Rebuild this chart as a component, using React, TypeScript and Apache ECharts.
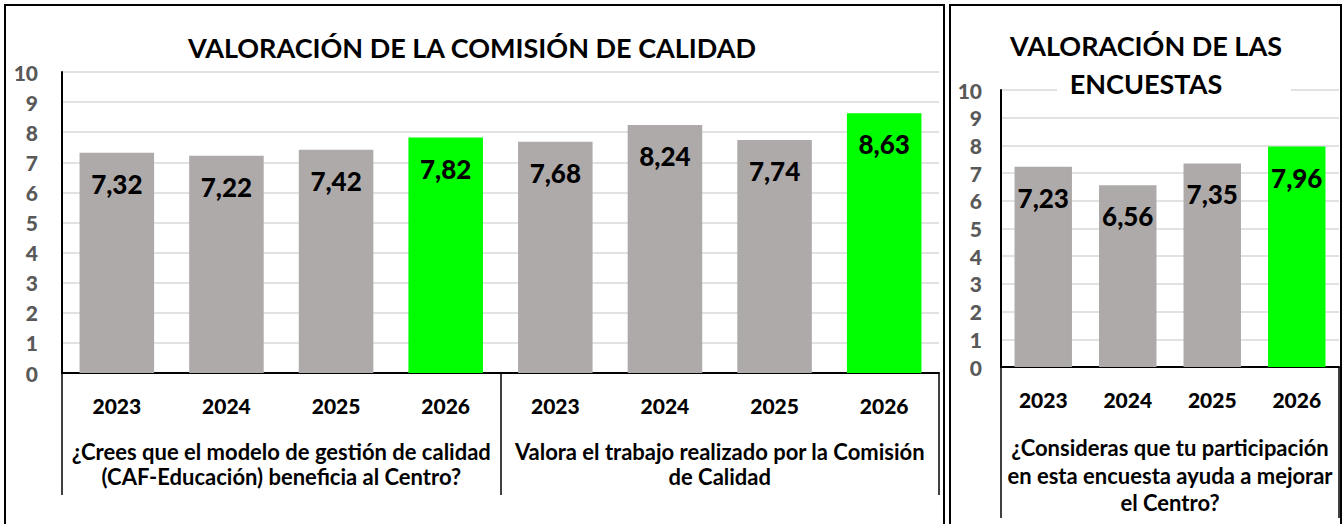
import React, { useEffect, useRef } from "react";
import * as echarts from "echarts";

const FONT = "Lato";
const HEAVY = 900;

const comisionYears = ["2023", "2024", "2025", "2026", "2023", "2024", "2025", "2026"];
const comisionQuestions = [
  "¿Crees que el modelo de gestión de calidad\n(CAF-Educación) beneficia al Centro?",
  "Valora el trabajo realizado por la Comisión\nde Calidad",
];
const comisionValues = [7.32, 7.22, 7.42, 7.82, 7.68, 8.24, 7.74, 8.63];

const encuestaYears = ["2023", "2024", "2025", "2026"];
const encuestaQuestions = [
  "¿Consideras que tu participación\nen esta encuesta ayuda a mejorar\nel Centro?",
];
const encuestaValues = [7.23, 6.56, 7.35, 7.96];

const titleLeft = "VALORACIÓN DE LA COMISIÓN DE CALIDAD";
const titleRightLines = ["VALORACIÓN DE LAS", "ENCUESTAS"];

const highlightYear = "2026";

export default function App() {
  const ref = useRef<HTMLDivElement>(null);

  useEffect(() => {
    if (!ref.current) return;
    const chart = echarts.init(ref.current, null, { renderer: "svg" });

    const barColor = (p: any) => (p.name === highlightYear ? "#00FF00" : "#AEAAAA");
    const fmt = (p: any) => Number(p.value).toFixed(2).replace(".", ",");

    const yearAxis = (grid: number, data: string[]) => ({
      type: "category",
      gridIndex: grid,
      data,
      position: "bottom",
      axisLine: { show: true, lineStyle: { color: "#000", width: 2 } },
      axisTick: { show: false },
      axisLabel: {
        interval: 0,
        margin: 22,
        fontSize: 21,
        fontWeight: HEAVY,
        color: "#000",
        fontFamily: FONT,
      },
    });

    const questionAxis = (grid: number, data: string[], tickLen: number, margin: number, lh: number) => ({
      type: "category",
      gridIndex: grid,
      data,
      position: "bottom",
      axisLine: { show: false },
      axisTick: { show: true, length: tickLen, lineStyle: { color: "#000", width: 1.5 } },
      axisLabel: {
        interval: 0,
        margin,
        fontSize: 22,
        lineHeight: lh,
        fontWeight: "bold",
        color: "#000",
        fontFamily: FONT,
        align: "center",
      },
      splitLine: { show: false },
    });

    const valueAxis = (grid: number, margin: number) => ({
      type: "value",
      gridIndex: grid,
      min: 0,
      max: 10,
      interval: 1,
      axisLine: { show: true, lineStyle: { color: "#000", width: 2 } },
      axisTick: { show: false },
      splitLine: { show: true, lineStyle: { color: "#D9D9D9", width: 1.5 } },
      axisLabel: {
        margin,
        fontSize: 21,
        fontWeight: HEAVY,
        color: "#595959",
        fontFamily: FONT,
      },
    });

    const barSeries = (axisIdx: number, data: number[]) => ({
      type: "bar",
      xAxisIndex: axisIdx,
      yAxisIndex: axisIdx === 0 ? 0 : 1,
      data,
      barWidth: "68%",
      itemStyle: { color: barColor },
      label: {
        show: true,
        position: "insideTop",
        distance: 18,
        formatter: fmt,
        fontSize: 26,
        fontWeight: HEAVY,
        color: "#000",
        fontFamily: FONT,
      },
    });

    chart.setOption({
      animation: false,
      backgroundColor: "#fff",
      grid: [
        { left: 62, right: 1343 - 939, top: 72, bottom: 524 - 373 },
        { left: 1001, right: 1343 - 1339, top: 90, bottom: 524 - 367 },
      ],
      xAxis: [
        yearAxis(0, comisionYears),
        questionAxis(0, comisionQuestions, 122, 66, 25),
        yearAxis(1, encuestaYears),
        questionAxis(1, encuestaQuestions, 151, 67, 27.5),
      ],
      yAxis: [valueAxis(0, 24), valueAxis(1, 19)],
      series: [barSeries(0, comisionValues), barSeries(2, encuestaValues)],
      graphic: [
        {
          type: "rect",
          z: 1,
          shape: { x: 5, y: 5, width: 939, height: 540 },
          style: { fill: "none", stroke: "#000", lineWidth: 2 },
          silent: true,
        },
        {
          type: "rect",
          z: 1,
          shape: { x: 950, y: 5, width: 391, height: 540 },
          style: { fill: "none", stroke: "#000", lineWidth: 2 },
          silent: true,
        },
        {
          type: "rect",
          z: 100,
          shape: { x: 1057, y: 84, width: 234, height: 10 },
          style: { fill: "#fff" },
          silent: true,
        },
        {
          type: "text",
          z: 200,
          x: 472,
          y: 47,
          style: {
            text: titleLeft,
            align: "center",
            verticalAlign: "middle",
            fontSize: 27,
            fontWeight: "bold",
            fontFamily: FONT,
            fill: "#000",
          },
        },
        {
          type: "text",
          z: 200,
          x: 1146,
          y: 64,
          style: {
            text: titleRightLines.join("\n"),
            align: "center",
            verticalAlign: "middle",
            fontSize: 27,
            lineHeight: 38,
            fontWeight: "bold",
            fontFamily: FONT,
            fill: "#000",
          },
        },
      ],
    });

    return () => chart.dispose();
  }, []);

  return (
    <div
      ref={ref}
      style={{ position: "absolute", left: 0, top: 0, width: 1343, height: 524 }}
    />
  );
}
